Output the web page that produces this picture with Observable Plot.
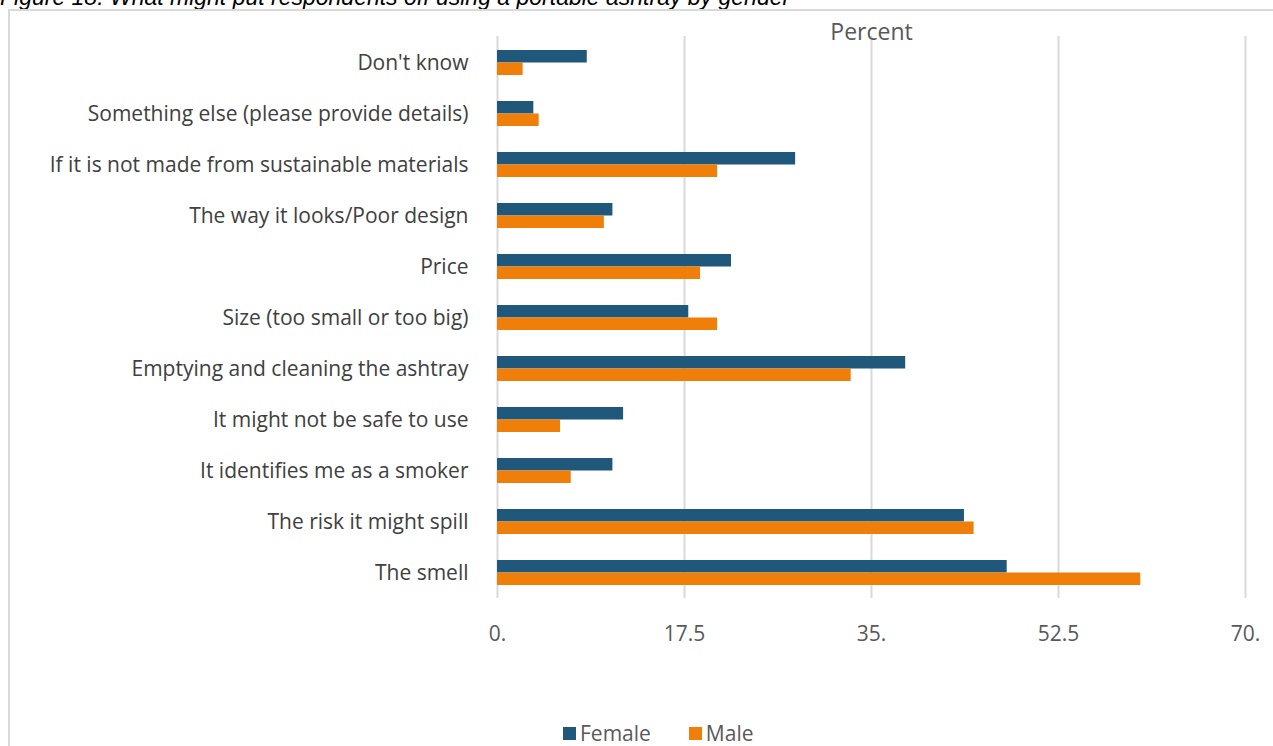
<!DOCTYPE html>
<html>
<head>
<meta charset="utf-8">
<script src="https://cdn.jsdelivr.net/npm/d3@7"></script>
<script src="https://cdn.jsdelivr.net/npm/@observablehq/plot@0.6"></script>
<style>
  html, body { margin: 0; padding: 0; background: #fff; overflow: hidden; }
  #wrap { position: relative; width: 1273px; height: 746px; overflow: hidden; }
  #title { position: absolute; left: 0; top: -15px; line-height: 25px; font-family: "Liberation Sans", Arial, sans-serif; font-style: italic; font-size: 23px; color: #000; white-space: nowrap; }
  #frame { position: absolute; left: 8px; top: 9px; width: 1275px; height: 760px; border-left: 2px solid #d9d9d9; border-top: 2px solid #d9d9d9; box-sizing: border-box; }
  #chart { position: absolute; left: 0; top: 0; }
  #legend { position: absolute; top: 719px; left: 563px; font-family: "Open Sans", sans-serif; font-size: 21px; line-height: 28px; color: #595959; display: flex; align-items: center; }
  #legend span.sw { display: inline-block; width: 13px; height: 13px; margin-right: 4px; }
  #legend .item { display: flex; align-items: center; margin-right: 38px; }
</style>
</head>
<body>
<div id="wrap">
  <div id="title">Figure 18: What might put respondents off using a portable ashtray by gender</div>
  <div id="frame"></div>
  <div id="chart"></div>
  <div id="legend">
    <div class="item"><span class="sw" style="background:#1f587b"></span>Female</div>
    <div class="item"><span class="sw" style="background:#f07f09"></span>Male</div>
  </div>
</div>
<script>
const categories = [
  "Don't know",
  "Something else (please provide details)",
  "If it is not made from sustainable materials",
  "The way it looks/Poor design",
  "Price",
  "Size (too small or too big)",
  "Emptying and cleaning the ashtray",
  "It might not be safe to use",
  "It identifies me as a smoker",
  "The risk it might spill",
  "The smell"
];
const female = [8.4, 3.4, 27.9, 10.8, 21.9, 17.9, 38.2, 11.8, 10.8, 43.7, 47.7];
const male   = [2.4, 3.9, 20.6, 10.0, 19.0, 20.6, 33.1, 5.9, 6.9, 44.6, 60.2];
const xTicks = [0, 17.5, 35, 52.5, 70];
const xTickLabels = ["0.", "17.5", "35.", "52.5", "70."];
const colors = {Female: "#1f587b", Male: "#f07f09"};

const femaleData = categories.map((c, i) => ({category: c, value: female[i]}));
const maleData = categories.map((c, i) => ({category: c, value: male[i]}));

const chart = Plot.plot({
  width: 1273,
  height: 680,
  marginLeft: 497,
  marginRight: 28,
  marginTop: 36,
  marginBottom: 82,
  style: {fontFamily: "'Open Sans', sans-serif", background: "transparent", overflow: "visible"},
  x: {domain: [0, 70], ticks: xTicks, tickFormat: (d) => xTickLabels[xTicks.indexOf(d)]},
  y: {domain: categories, paddingInner: 0.51, paddingOuter: 0.255, align: 0.5},
  marks: [
    Plot.gridX(xTicks, {stroke: "#d9d9d9", strokeWidth: 2, strokeOpacity: 1}),
    Plot.axisX({ticks: xTicks, tickFormat: (d) => xTickLabels[xTicks.indexOf(d)], tickSize: 0, tickPadding: 28, fontSize: 21, fill: "#595959", label: null}),
    Plot.axisY({tickSize: 0, tickPadding: 29, fontSize: 21, fill: "#404040", label: null}),
    Plot.barX(femaleData, {x: "value", y: "category", fill: colors.Female, insetBottom: 12.5}),
    Plot.barX(maleData, {x: "value", y: "category", fill: colors.Male, insetTop: 12.5}),
    Plot.text(["Percent"], {frameAnchor: "top", dy: -13, fontSize: 23, fill: "#595959"})
  ]
});
document.getElementById("chart").appendChild(chart);
</script>
</body>
</html>
